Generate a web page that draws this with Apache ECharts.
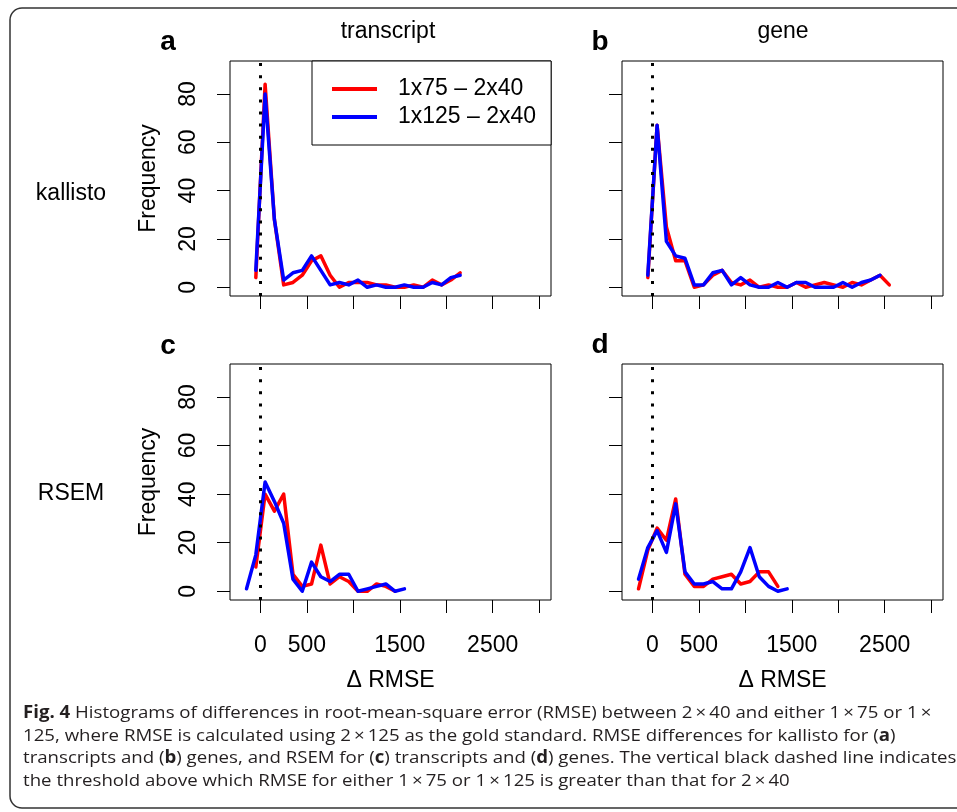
<!DOCTYPE html>
<html>
<head>
<meta charset="utf-8">
<script src="https://cdn.jsdelivr.net/npm/echarts@6/dist/echarts.min.js"></script>
<style>
html, body { margin: 0; padding: 0; background: #fff; }
#chart { width: 957px; height: 812px; }
</style>
</head>
<body>
<div id="chart"></div>
<script>
// histogram bin midpoints and counts
const transKallistoX = [-50, 50, 150, 250, 350, 450, 550, 650, 750, 850, 950, 1050, 1150, 1250, 1350, 1450, 1550, 1650, 1750, 1850, 1950, 2050, 2150];
const transKallisto75 = [4, 84, 28, 1, 2, 5, 11, 13, 5, 0, 2, 2, 2, 1, 1, 0, 0, 1, 0, 3, 1, 3, 6];
const transKallisto125 = [7, 80, 28, 3, 6, 7, 13, 7, 1, 2, 1, 3, 0, 1, 0, 0, 1, 0, 0, 2, 1, 4, 5];

const geneKallistoX = [-50, 50, 150, 250, 350, 450, 550, 650, 750, 850, 950, 1050, 1150, 1250, 1350, 1450, 1550, 1650, 1750, 1850, 1950, 2050, 2150, 2250, 2350, 2450, 2550];
const geneKallisto75 = [4, 67, 25, 11, 11, 0, 1, 5, 7, 2, 1, 3, 0, 1, 0, 0, 2, 0, 1, 2, 1, 0, 2, 1, 3, 5, 1];
const geneKallisto125 = [5, 67, 19, 13, 12, 1, 1, 6, 7, 1, 4, 1, 0, 0, 2, 0, 2, 2, 0, 0, 0, 2, 0, 2, 3, 5];

const transRsemX75 = [-50, 50, 150, 250, 350, 450, 550, 650, 750, 850, 950, 1050, 1150, 1250, 1350, 1450];
const transRsem75 = [10, 40, 33, 40, 7, 2, 3, 19, 3, 6, 4, 0, 0, 3, 2, 0];
const transRsemX125 = [-150, -50, 50, 150, 250, 350, 450, 550, 650, 750, 850, 950, 1050, 1150, 1250, 1350, 1450, 1550];
const transRsem125 = [1, 15, 45, 37, 28, 5, 0, 12, 6, 4, 7, 7, 0, 1, 2, 3, 0, 1];

const geneRsemX75 = [-150, -50, 50, 150, 250, 350, 450, 550, 650, 750, 850, 950, 1050, 1150, 1250, 1350];
const geneRsem75 = [1, 17, 26, 21, 38, 7, 2, 2, 5, 6, 7, 3, 4, 8, 8, 2];
const geneRsemX125 = [-150, -50, 50, 150, 250, 350, 450, 550, 650, 750, 850, 950, 1050, 1150, 1250, 1350, 1450];
const geneRsem125 = [5, 18, 25, 16, 36, 8, 3, 3, 4, 1, 1, 8, 18, 6, 2, 0, 1];

const xTicks = [0, 500, 1000, 1500, 2000, 2500, 3000];
const xTickLabels = [0, 500, 1500, 2500];
const yTicks = [0, 20, 40, 60, 80];
const threshold = 0;
const seriesNames = ['1x75 \u2013 2x40', '1x125 \u2013 2x40'];

const captionLines = [
    '{b|Fig. 4} Histograms of differences in root-mean-square error (RMSE) between 2\u2009\u00d7\u200940 and either 1\u2009\u00d7\u200975 or 1\u2009\u00d7',
    '125, where RMSE is calculated using 2\u2009\u00d7\u2009125 as the gold standard. RMSE differences for kallisto for ({b|a})',
    'transcripts and ({b|b}) genes, and RSEM for ({b|c}) transcripts and ({b|d}) genes. The vertical black dashed line indicates',
    'the threshold above which RMSE for either 1\u2009\u00d7\u200975 or 1\u2009\u00d7\u2009125 is greater than that for 2\u2009\u00d7\u200940'
];

const FONT = "'Liberation Sans', Arial, sans-serif";
const CAP_FONT = "'Open Sans', 'Noto Sans', sans-serif";
const CAP_SIZE = 17;
const RED = '#ff0000';
const BLUE = '#0000ff';

const panels = [
    { grid: { left: 230, top: 61, width: 321, height: 235 }, bottom: false, leftCol: true,
      a: [transKallistoX, transKallisto75], b: [transKallistoX, transKallisto125] },
    { grid: { left: 622, top: 61, width: 321, height: 235 }, bottom: false, leftCol: false,
      a: [geneKallistoX, geneKallisto75], b: [geneKallistoX, geneKallisto125] },
    { grid: { left: 230, top: 364, width: 321, height: 236 }, bottom: true, leftCol: true,
      a: [transRsemX75, transRsem75], b: [transRsemX125, transRsem125] },
    { grid: { left: 622, top: 364, width: 321, height: 236 }, bottom: true, leftCol: false,
      a: [geneRsemX75, geneRsem75], b: [geneRsemX125, geneRsem125] }
];

function pairs(xs, ys) {
    return ys.map((y, i) => [xs[i], y]);
}

const grids = [], xAxes = [], yAxes = [], series = [];
panels.forEach((p, i) => {
    grids.push(Object.assign({ show: true, borderColor: '#000', borderWidth: 1, containLabel: false }, p.grid));
    xAxes.push({
        gridIndex: i, type: 'value', min: -328, max: 3128,
        axisLine: { show: false, onZero: false },
        axisTick: { show: true, inside: false, length: 13, lineStyle: { color: '#000', width: 1 }, customValues: xTicks },
        axisLabel: { show: p.bottom, customValues: xTickLabels, margin: 34, fontSize: 23, fontFamily: FONT, color: '#000',
                     formatter: v => String(v) },
        splitLine: { show: false },
        name: p.bottom ? '\u0394 RMSE' : '', nameLocation: 'middle', nameGap: 69,
        nameTextStyle: { fontSize: 23, fontFamily: FONT, color: '#000' }
    });
    yAxes.push({
        gridIndex: i, type: 'value', min: -3.6, max: 93.6,
        axisLine: { show: false, onZero: false },
        axisTick: { show: true, inside: false, length: 13, lineStyle: { color: '#000', width: 1 }, customValues: yTicks },
        axisLabel: { show: p.leftCol, customValues: yTicks, rotate: 90, margin: 30, fontSize: 23, fontFamily: FONT, color: '#000' },
        splitLine: { show: false },
        name: p.leftCol ? 'Frequency' : '', nameLocation: 'middle', nameRotate: 90, nameGap: 70,
        nameTextStyle: { fontSize: 23, fontFamily: FONT, color: '#000' }
    });
    series.push({
        name: seriesNames[0], type: 'line', xAxisIndex: i, yAxisIndex: i,
        data: pairs(p.a[0], p.a[1]), symbol: 'none', showSymbol: false,
        lineStyle: { color: RED, width: 3.5, join: 'round', cap: 'round' }, itemStyle: { color: RED },
        markLine: {
            silent: true, symbol: ['none', 'none'], label: { show: false },
            lineStyle: { color: '#000', type: [3, 9.1], width: 3 },
            data: [{ xAxis: threshold }]
        }
    });
    series.push({
        name: seriesNames[1], type: 'line', xAxisIndex: i, yAxisIndex: i,
        data: pairs(p.b[0], p.b[1]), symbol: 'none', showSymbol: false,
        lineStyle: { color: BLUE, width: 3.5, join: 'round', cap: 'round' }, itemStyle: { color: BLUE }
    });
});

function label(text, x, y, size, bold) {
    return {
        type: 'text', x: x, y: y, z: 10,
        style: { text: text, fontSize: size, fontWeight: bold ? 'bold' : 'normal', fontFamily: FONT,
                 fill: '#000', textAlign: 'center', textVerticalAlign: 'middle' }
    };
}

// squeeze the caption so the long third line ends at the right edge like the original
const ctx = document.createElement('canvas').getContext('2d');
ctx.font = CAP_SIZE + 'px ' + CAP_FONT;
const plainLine3 = captionLines[2].replace(/\{b\|([^}]*)\}/g, '$1');
const capScale = Math.min(1.2, 932 / ctx.measureText(plainLine3).width);

const capRich = { b: { fontWeight: 'bold', fontSize: CAP_SIZE, fontFamily: CAP_FONT, fill: '#231f20' } };
function captionLine(text, y) {
    return {
        type: 'text', x: 23, y: y, z: 10, scaleX: capScale,
        style: { text: text, rich: capRich, fontSize: CAP_SIZE, fontFamily: CAP_FONT, fill: '#231f20',
                 textAlign: 'left', textVerticalAlign: 'middle' }
    };
}

const chart = echarts.init(document.getElementById('chart'));
chart.setOption({
    animation: false,
    grid: grids,
    xAxis: xAxes,
    yAxis: yAxes,
    series: series,
    legend: {
        data: seriesNames, left: 312, top: 61, orient: 'vertical',
        icon: 'rect', itemWidth: 45, itemHeight: 4, itemGap: 0,
        padding: [14, 15, 14, 20],
        borderColor: '#000', borderWidth: 1, backgroundColor: '#fff',
        selectedMode: false,
        textStyle: { fontSize: 23, fontFamily: FONT, color: '#000', lineHeight: 28, padding: [0, 0, 0, 16] }
    },
    graphic: [
        { type: 'rect', z: 0, shape: { x: 10, y: 8, width: 960, height: 800, r: 12 },
          style: { fill: 'none', stroke: '#333', lineWidth: 1.5 } },
        label('a', 168, 42, 28, true),
        label('b', 600, 42, 28, true),
        label('c', 168, 346, 28, true),
        label('d', 600, 345, 28, true),
        label('transcript', 388, 32, 23, false),
        label('gene', 783, 32, 23, false),
        label('kallisto', 71, 194, 23, false),
        label('RSEM', 71, 494, 23, false)
    ].concat(captionLines.map((t, i) => captionLine(t, [713, 736, 758, 781][i])))
});
</script>
</body>
</html>
